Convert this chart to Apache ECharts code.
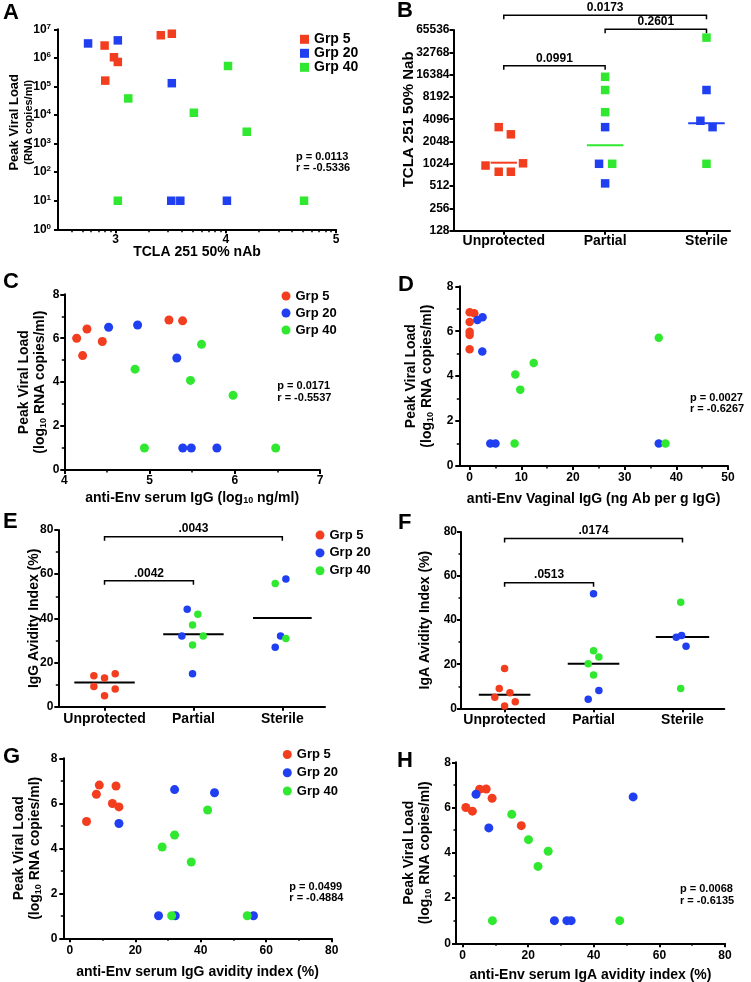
<!DOCTYPE html>
<html><head><meta charset="utf-8">
<script src="https://cdn.jsdelivr.net/npm/echarts@6/dist/echarts.min.js"></script>
<style>html,body{margin:0;padding:0;background:#fff}#c{width:751px;height:982px}</style>
</head><body><div id="c"></div>
<script>
// ================= DATA =================
const groups = ['Grp 5', 'Grp 20', 'Grp 40'];
const categories = ['Unprotected', 'Partial', 'Sterile'];

// A: x = log10 TCLA 251 50% nAb, y = peak viral load (RNA copies/ml)
const A_grp5  = [[2.90,2.7e6],[2.985,1.05e6],[3.02,7.2e5],[2.906,1.6e5],[3.41,6.2e6],[3.51,7.0e6]];
const A_grp20 = [[2.75,3.2e6],[3.02,4.1e6],[3.51,1.3e5],[3.505,10],[3.587,10],[4.01,10]];
const A_grp40 = [[4.02,5.2e5],[3.115,3.8e4],[3.71,1.2e4],[4.19,2.6e3],[3.02,10],[4.71,10]];
const A_xTicks = [3, 4, 5];
const A_stats = 'p = 0.0113\nr = -0.5336';

// B: x = category index (+ jitter), y = TCLA 251 50% Nab
const B_grp5  = [[-0.18,970],[-0.05,3200],[0.07,2560],[0.19,1040],[-0.05,800],[0.07,800]];
const B_grp20 = [[1.0,3200],[0.94,1024],[1.0,557],[2.0,10150],[1.94,3900],[2.06,3200]];
const B_grp40 = [[1.0,15300],[1.0,10150],[1.0,5100],[1.07,1024],[2.0,51700],[2.0,1024]];
const B_medians = [1060, 1820, 3600];
const B_brackets = [[0,2,104000,'0.0173'],[1,2,66900,'0.2601'],[0,1,21500,'0.0991']];

// C: x = anti-Env serum IgG (log10 ng/ml), y = log10 peak VL
const C_grp5  = [[4.145,6.0],[4.215,5.21],[4.266,6.42],[4.446,5.85],[5.228,6.83],[5.388,6.79]];
const C_grp20 = [[4.52,6.50],[4.86,6.60],[5.32,5.10],[5.39,1.0],[5.49,1.0],[5.79,1.0]];
const C_grp40 = [[4.83,4.59],[5.61,5.72],[5.48,4.08],[5.98,3.40],[4.94,1.0],[6.48,1.0]];
const C_stats = 'p = 0.0171\nr = -0.5537';

// D: x = anti-Env vaginal IgG (ng Ab per g IgG), y = log10 peak VL
const D_grp5  = [[0,6.84],[0.9,6.80],[0,6.41],[0,5.98],[0,5.83],[0,5.20]];
const D_grp20 = [[1.5,6.50],[2.5,6.62],[2.45,5.10],[4.0,1.0],[5.0,1.0],[36.6,1.0]];
const D_grp40 = [[36.6,5.71],[12.4,4.59],[8.84,4.07],[9.8,3.40],[8.7,1.0],[37.9,1.0]];
const D_xTicks = [0,10,20,30,40,50];
const D_xMinor = [5,15,25,35,45];
const D_stats = 'p = 0.0027\nr = -0.6267';

// E: IgG avidity index by outcome
const E_grp5  = [[-0.12,14.0],[0,13.0],[0.12,14.9],[-0.12,9.1],[0.12,8.0],[0,5.0]];
const E_grp20 = [[0.93,44.1],[0.87,32.0],[0.99,14.9],[2.04,57.8],[1.98,32.0],[1.92,26.9]];
const E_grp40 = [[1.05,41.8],[0.99,37.0],[1.11,32.0],[0.99,27.9],[1.92,55.8],[2.04,30.9]];
const E_medians = [11.0, 32.8, 40.2];
const E_brackets = [[0,2,77,'.0043'],[0,1,57,'.0042']];

// F: IgA avidity index by outcome
const F_grp5  = [[0,18.1],[-0.06,9.0],[0.06,7.1],[-0.11,5.0],[0.12,3.0],[0,1.0]];
const F_grp20 = [[1.0,52.0],[1.06,8.1],[0.94,4.1],[1.93,32.2],[1.99,33.0],[2.04,28.1]];
const F_grp40 = [[1.0,26.1],[1.06,23.3],[0.94,20.2],[1.0,15.1],[1.98,48.1],[1.98,9.0]];
const F_medians = [6.2, 20.2, 32.3];
const F_brackets = [[0,2,77,'.0174'],[0,1,57,'.0513']];

// G: x = serum IgG avidity index (%), y = log10 peak VL
const G_grp5  = [[5.1,5.19],[8.1,6.40],[9.0,6.81],[13.0,5.99],[14.1,6.77],[15.0,5.84]];
const G_grp20 = [[15.0,5.10],[32.0,6.61],[44.2,6.47],[27.1,1.0],[32.2,1.0],[56.1,1.0]];
const G_grp40 = [[42.1,5.70],[32.0,4.59],[28.2,4.06],[37.1,3.39],[31.1,1.0],[54.2,1.0]];
const GH_xTicks = [0,20,40,60,80];
const GH_xMinor = [10,30,50,70];
const G_stats = 'p = 0.0499\nr = -0.4884';

// H: x = serum IgA avidity index (%), y = log10 peak VL
const H_grp5  = [[1.0,6.0],[3.0,5.84],[5.2,6.81],[7.2,6.82],[9.0,6.41],[17.9,5.20]];
const H_grp20 = [[4.1,6.59],[8.0,5.10],[52.0,6.47],[28.0,1.0],[31.8,1.0],[33.1,1.0]];
const H_grp40 = [[15.0,5.70],[20.1,4.58],[26.1,4.07],[23.0,3.40],[9.1,1.0],[47.9,1.0]];
const H_stats = 'p = 0.0068\nr = -0.6135';

// ================= STYLE / LAYOUT =================
const FONT = '"Liberation Sans", Arial, Helvetica, sans-serif';
const COLORS = {'Grp 5': '#f23e1f', 'Grp 20': '#1f3ff0', 'Grp 40': '#30e830'};
const GC = groups.map(g => COLORS[g]);

function isObj(o){ return o && typeof o === 'object' && !Array.isArray(o); }
function merge(a, b){ const r = Object.assign({}, a); for (const k in b){ r[k] = (isObj(a[k]) && isObj(b[k])) ? merge(a[k], b[k]) : b[k]; } return r; }

function axis(gridIndex, o){
  const base = {
    gridIndex, type: 'value', nameLocation: 'middle', nameMoveOverlap: false,
    axisLine: {show: true, onZero: false, lineStyle: {color: '#000', width: 2}},
    axisTick: {show: true, length: 4, lineStyle: {color: '#000', width: 2}},
    minorTick: {show: false},
    axisLabel: {color: '#000', fontWeight: 'bold', fontSize: 12, fontFamily: FONT, margin: 5},
    splitLine: {show: false},
    nameTextStyle: {color: '#000', fontWeight: 'bold', fontSize: 14, fontFamily: FONT}
  };
  return merge(base, o);
}
function minorAxis(gridIndex, min, max, vals, len){
  return {gridIndex, type: 'value', position: 'bottom', min, max,
    axisLine: {show: false}, axisLabel: {show: false}, splitLine: {show: false},
    axisTick: {show: true, length: len, customValues: vals, lineStyle: {color: '#000', width: 1.5}}};
}
const minorY = {show: true, splitNumber: 2, length: 2.5, lineStyle: {color: '#000', width: 1.5}};

const vlRich = {
  a: {fontSize: 14, fontWeight: 'bold', fontFamily: FONT, color: '#000', lineHeight: 16},
  b: {fontSize: 14, fontWeight: 'bold', fontFamily: FONT, color: '#000', lineHeight: 16},
  s: {fontSize: 9, fontWeight: 'bold', fontFamily: FONT, color: '#000', lineHeight: 9, verticalAlign: 'bottom'}
};
const vlName = '{a|Peak Viral Load}\n{b|(log}{s|10}{b| RNA copies/ml)}';

const grids = [
  {left: 58, top: 29.3, width: 278, height: 200},       // A
  {left: 453.5, top: 30, width: 276.5, height: 200.7},  // B
  {left: 64.3, top: 294.3, width: 255.7, height: 175.7},// C
  {left: 459.3, top: 286.3, width: 268.7, height: 179.7},// D
  {left: 58.3, top: 530, width: 266.7, height: 176.7},  // E
  {left: 461, top: 532, width: 263.3, height: 176.3},   // F
  {left: 63.3, top: 758.3, width: 268.4, height: 180},  // G
  {left: 456, top: 762.3, width: 269, height: 181}      // H
].map(g => Object.assign({containLabel: false, outerBoundsMode: 'none'}, g));

// A x minor ticks (log decades)
const A_xMinor = [];
[2,3,4].forEach(n => { for (let k = 2; k <= 9; k++){ const v = n + Math.log10(k); if (v > Math.log10(300) + 0.05 && v < 5) A_xMinor.push(v); } });

const catLabel = {customValues: [0,1,2], formatter: v => categories[Math.round(v)], fontSize: 14};
const catTick = {customValues: [0,1,2]};

const xAxes = [
  axis(0, {min: Math.log10(300), max: 5, name: 'TCLA 251 50% nAb', nameGap: 15.5,
    axisLabel: {customValues: A_xTicks, margin: 4}, axisTick: {customValues: A_xTicks}}),
  axis(1, {min: -0.496, max: 2.232, axisLabel: merge(catLabel, {margin: 3}), axisTick: catTick}),
  axis(2, {min: 4, max: 7, interval: 1, name: 'anti-Env serum IgG (log{s|10} ng/ml)', nameGap: 21,
    nameTextStyle: {rich: vlRich}, minorTick: minorY, axisLabel: {margin: 5}}),
  axis(3, {min: -2, max: 50, name: 'anti-Env Vaginal IgG (ng Ab per g IgG)', nameGap: 26,
    axisLabel: {customValues: D_xTicks, margin: 6}, axisTick: {customValues: D_xTicks}}),
  axis(4, {min: -0.52, max: 2.48, axisLabel: merge(catLabel, {margin: 5}), axisTick: catTick}),
  axis(5, {min: -0.49, max: 2.47, axisLabel: merge(catLabel, {margin: 5}), axisTick: catTick}),
  axis(6, {min: -2, max: 80, name: 'anti-Env serum IgG avidity index (%)', nameGap: 26.5,
    axisLabel: {customValues: GH_xTicks, margin: 6}, axisTick: {customValues: GH_xTicks}}),
  axis(7, {min: -2, max: 80, name: 'anti-Env serum IgA avidity index (%)', nameGap: 25,
    axisLabel: {customValues: GH_xTicks, margin: 6}, axisTick: {customValues: GH_xTicks}}),
  minorAxis(0, Math.log10(300), 5, A_xMinor, 3),
  minorAxis(3, -2, 50, D_xMinor, 2.5),
  minorAxis(6, -2, 80, GH_xMinor, 2.5),
  minorAxis(7, -2, 80, GH_xMinor, 2.5)
];

const yAxes = [
  axis(0, {type: 'log', logBase: 10, min: 1, max: 1e7,
    name: '{a|Peak Viral Load}\n{b|(RNA copies/ml)}', nameGap: 23,
    nameTextStyle: {padding: [0,0,0,14], rich: {
      a: {fontSize: 13, fontWeight: 'bold', fontFamily: FONT, color: '#000', lineHeight: 15},
      b: {fontSize: 11, fontWeight: 'bold', fontFamily: FONT, color: '#000', lineHeight: 13}}},
    axisLabel: {margin: 7, lineHeight: 14, formatter: v => '10{sup|' + Math.round(Math.log10(v)) + '}',
      rich: {sup: {fontSize: 8, fontWeight: 'bold', fontFamily: FONT, color: '#000', verticalAlign: 'top', lineHeight: 8}}}}),
  axis(1, {type: 'log', logBase: 2, min: 128, max: 65536, name: 'TCLA 251 50% Nab', nameGap: 37,
    nameTextStyle: {fontSize: 15, padding: [0,0,0,22]},
    axisLabel: {margin: 4, fontSize: 12, formatter: v => String(Math.round(v))}}),
  axis(2, {min: 0, max: 8, interval: 2, minorTick: minorY, name: vlName, nameGap: 16, nameTextStyle: {rich: vlRich}}),
  axis(3, {min: 0, max: 8, interval: 2, minorTick: minorY, name: vlName, nameGap: 24, nameTextStyle: {rich: vlRich}, axisLabel: {margin: 6}}),
  axis(4, {min: 0, max: 80, interval: 20, minorTick: minorY, name: 'IgG Avidity Index (%)', nameGap: 17}),
  axis(5, {min: 0, max: 80, interval: 20, minorTick: minorY, name: 'IgA Avidity Index (%)', nameGap: 29, axisLabel: {margin: 4}}),
  axis(6, {min: 0, max: 8, interval: 2, minorTick: minorY, name: vlName, nameGap: 20, nameTextStyle: {rich: vlRich}, axisLabel: {margin: 6}}),
  axis(7, {min: 0, max: 8, interval: 2, minorTick: minorY, name: vlName, nameGap: 23, nameTextStyle: {rich: vlRich}})
];

function scat(name, g, data, symbol, size){
  return {type: 'scatter', name, xAxisIndex: g, yAxisIndex: g, data, symbol, symbolSize: size,
    itemStyle: {color: COLORS[name], opacity: 1}, emphasis: {disabled: true}, silent: true, z: 5};
}
function medianSeries(g, meds, colors, hw){
  return {type: 'custom', xAxisIndex: g, yAxisIndex: g, silent: true, z: 4,
    data: meds.map((v, i) => [i, v]), encode: {x: 0, y: 1},
    renderItem: (p, api) => {
      const i = p.dataIndex, c = api.value(0), v = api.value(1);
      const a = api.coord([c - hw[i], v]), b = api.coord([c + hw[i], v]);
      return {type: 'line', shape: {x1: a[0], y1: a[1], x2: b[0], y2: b[1]}, style: {stroke: colors[i], lineWidth: 2}};
    }};
}
function bracketSeries(g, br){
  return {type: 'custom', xAxisIndex: g, yAxisIndex: g, silent: true, clip: false, z: 4,
    data: br.map(b => [b[0], b[1], b[2]]), encode: {x: [0, 1], y: 2},
    renderItem: (p, api) => {
      const a = api.coord([api.value(0), api.value(2)]), b = api.coord([api.value(1), api.value(2)]);
      return {type: 'group', children: [
        {type: 'polyline', shape: {points: [[a[0], a[1] + 4], [a[0], a[1]], [b[0], b[1]], [b[0], b[1] + 4]]},
          style: {stroke: '#000', lineWidth: 1.5, fill: 'none'}},
        {type: 'text', x: (a[0] + b[0]) / 2, y: a[1] - 1.5,
          style: {text: br[p.dataIndex][3], fill: '#000', font: 'bold 12px ' + FONT, textAlign: 'center', textVerticalAlign: 'bottom'}}
      ]};
    }};
}

const panelSets = [
  {g: 0, sets: [A_grp5, A_grp20, A_grp40], symbol: 'rect', size: 8.5},
  {g: 1, sets: [B_grp5, B_grp20, B_grp40], symbol: 'rect', size: 8.5},
  {g: 2, sets: [C_grp5, C_grp20, C_grp40], symbol: 'circle', size: 9},
  {g: 3, sets: [D_grp5, D_grp20, D_grp40], symbol: 'circle', size: 8.5},
  {g: 4, sets: [E_grp5, E_grp20, E_grp40], symbol: 'circle', size: 7.5},
  {g: 5, sets: [F_grp5, F_grp20, F_grp40], symbol: 'circle', size: 7.5},
  {g: 6, sets: [G_grp5, G_grp20, G_grp40], symbol: 'circle', size: 9},
  {g: 7, sets: [H_grp5, H_grp20, H_grp40], symbol: 'circle', size: 9}
];
const series = [];
panelSets.forEach(p => p.sets.forEach((d, i) => series.push(scat(groups[i], p.g, d, p.symbol, p.size))));
series.push(medianSeries(1, B_medians, [GC[0], GC[2], GC[1]], [0.13, 0.18, 0.18]));
series.push(medianSeries(4, E_medians, ['#000','#000','#000'], [0.34, 0.34, 0.33]));
series.push(medianSeries(5, F_medians, ['#000','#000','#000'], [0.29, 0.29, 0.3]));
series.push(bracketSeries(1, B_brackets));
series.push(bracketSeries(4, E_brackets));
series.push(bracketSeries(5, F_brackets));

function legend(left, top, icon, fs, lh){
  return {left, top, orient: 'vertical', icon, itemWidth: 9, itemHeight: 9, itemGap: 0, padding: 0,
    selectedMode: false, data: groups,
    textStyle: {fontSize: fs, fontWeight: 'bold', fontFamily: FONT, color: '#000', lineHeight: lh}};
}
const legends = [
  legend(300, 32.3, 'rect', 14, 13.5),
  legend(281.5, 287.5, 'circle', 13, 17),
  legend(315.5, 526.2, 'circle', 13, 17.8),
  legend(282.8, 745.3, 'circle', 13, 18.3)
];

function letter(t, x, y){ return {type: 'text', x, y, style: {text: t, fill: '#000', font: 'bold 22px ' + FONT, textAlign: 'left', textVerticalAlign: 'middle'}}; }
function stat(t, x, y, lh){ return {type: 'text', x, y: y - lh / 2, style: {text: t, fill: '#000', font: 'bold 11px ' + FONT, lineHeight: lh, textAlign: 'left', textVerticalAlign: 'top'}}; }
const graphics = [
  letter('A', 3, 12.5), letter('B', 397, 11), letter('C', 3, 281.5), letter('D', 398, 284.5),
  letter('E', 3, 521.5), letter('F', 398, 522.5), letter('G', 3, 756.5), letter('H', 397, 760.5),
  stat(A_stats, 296, 157, 11.3), stat(C_stats, 277.3, 385.7, 12), stat(D_stats, 690, 398.3, 11),
  stat(G_stats, 289.3, 886.7, 11.6), stat(H_stats, 680, 889, 11.7)
];

const chart = echarts.init(document.getElementById('c'), null, {renderer: 'canvas'});
chart.setOption({
  animation: false, backgroundColor: '#fff', textStyle: {fontFamily: FONT},
  grid: grids, xAxis: xAxes, yAxis: yAxes, legend: legends, series, graphic: graphics
});
</script></body></html>
